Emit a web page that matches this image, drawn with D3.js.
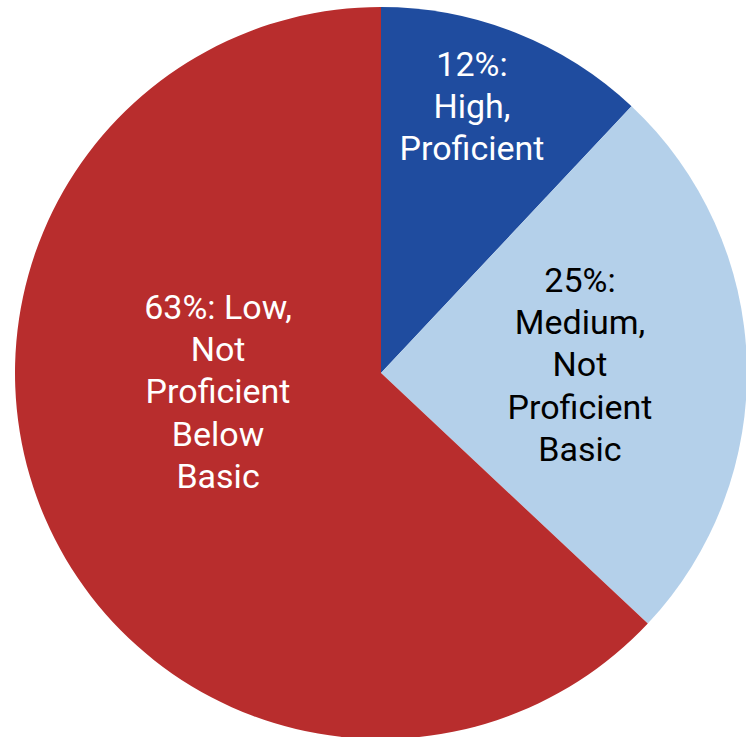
<!DOCTYPE html>
<html>
<head>
<meta charset="utf-8">
<script src="https://cdn.jsdelivr.net/npm/d3@7"></script>
<style>
  html, body { margin: 0; padding: 0; background: #ffffff; }
  svg { display: block; }
</style>
</head>
<body>
<svg id="chart" width="746" height="737"></svg>
<script>
// Proficiency shares, drawn clockwise from 12 o'clock
const levels = ["High", "Medium", "Low"];
const shares = [12, 25, 63];
const labelLines = [
  ["12%:", "High,", "Proficient"],
  ["25%:", "Medium,", "Not", "Proficient", "Basic"],
  ["63%: Low,", "Not", "Proficient", "Below", "Basic"]
];
const sliceColors = ["#1f4c9f", "#b4d0ea", "#b82d2d"];
const textColors = ["#ffffff", "#000000", "#ffffff"];

const svg = d3.select("#chart");
const cx = 381, cy = 373, radius = 366;

const pie = d3.pie().sort(null).value(d => d)(shares);
const arc = d3.arc().innerRadius(0).outerRadius(radius);

const g = svg.append("g").attr("transform", `translate(${cx},${cy})`);

g.selectAll("path.slice")
  .data(pie)
  .join("path")
  .attr("class", "slice")
  .attr("d", arc)
  .attr("fill", (d, i) => sliceColors[i]);

// Label anchor for each slice: distance from centre (fraction of radius)
// and an angular nudge from the slice midpoint, in degrees.
const labelPlacement = [
  { r: 0.7656, nudge: -2.65 },
  { r: 0.544, nudge: -0.2 },
  { r: 0.4486, nudge: 16.4 }
];
const lineHeight = 42.3;
const fontSize = 34;

g.selectAll("text.label")
  .data(pie)
  .join("text")
  .attr("class", "label")
  .attr("text-anchor", "middle")
  .attr("font-family", "Roboto, 'Liberation Sans', sans-serif")
  .attr("font-size", fontSize)
  .attr("fill", (d, i) => textColors[i])
  .each(function (d, i) {
    const mid = (d.startAngle + d.endAngle) / 2 + labelPlacement[i].nudge * Math.PI / 180;
    const rr = radius * labelPlacement[i].r;
    const x = rr * Math.sin(mid);
    const y = -rr * Math.cos(mid);
    const lines = labelLines[i];
    const top = y - (lines.length - 1) * lineHeight / 2;
    d3.select(this).selectAll("tspan")
      .data(lines)
      .join("tspan")
      .attr("x", x)
      .attr("y", (t, k) => top + k * lineHeight)
      .attr("dy", "0.3em")
      .text(t => t);
  });
</script>
</body>
</html>
